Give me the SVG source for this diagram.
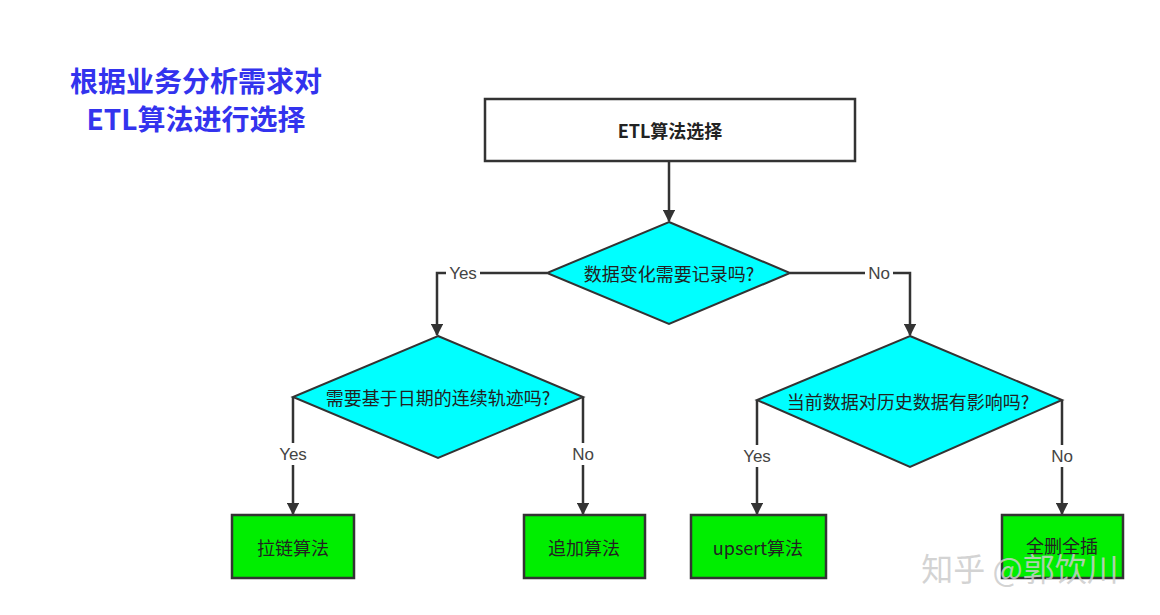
<svg xmlns="http://www.w3.org/2000/svg" width="1160" height="615" viewBox="0 0 1160 615">
<style>
text{font-family:"Noto Sans CJK SC","Liberation Sans",sans-serif;text-anchor:middle;dominant-baseline:central}
.dia{fill:#00ffff;stroke:#333;stroke-width:2}
.box{fill:#00ee00;stroke:#333;stroke-width:2.5}
.e{fill:none;stroke:#333;stroke-width:2.5;marker-end:url(#a)}
.t{font-size:18px;fill:#222}
.l{font-size:17px;fill:#444;font-family:"Liberation Sans","Noto Sans CJK SC",sans-serif}
.lb{fill:#fff}
</style>
<defs><marker id="a" viewBox="0 0 10 10" refX="9" refY="5" markerWidth="5" markerHeight="5" orient="auto" markerUnits="strokeWidth"><path d="M0,0L10,5L0,10z" fill="#333"/></marker></defs>
<rect width="1160" height="615" fill="#fff"/>
<g id="title"><text x="196" y="80" style="font-size:28px;font-weight:bold;fill:#3333ee">根据业务分析需求对</text><text x="196" y="118" style="font-size:28px;font-weight:bold;fill:#3333ee">ETL算法进行选择</text></g>
<g id="connectors">
<path class="e" d="M669,162V221"/>
<path class="e" d="M547,273H437V335"/>
<path class="e" d="M790,273H910V335"/>
<path class="e" d="M293,397V514"/>
<path class="e" d="M583,397V514"/>
<path class="e" d="M757,400V514"/>
<path class="e" d="M1062,400V514"/>
<rect class="lb" x="446" y="262" width="34" height="22"/><text class="l" x="463" y="273">Yes</text>
<rect class="lb" x="865" y="262" width="28" height="22"/><text class="l" x="879" y="273">No</text>
<rect class="lb" x="276" y="443" width="34" height="22"/><text class="l" x="293" y="454">Yes</text>
<rect class="lb" x="569" y="443" width="28" height="22"/><text class="l" x="583" y="454">No</text>
<rect class="lb" x="740" y="445" width="34" height="22"/><text class="l" x="757" y="456">Yes</text>
<rect class="lb" x="1048" y="445" width="28" height="22"/><text class="l" x="1062" y="456">No</text>
</g>
<g id="start"><rect x="485" y="99" width="370" height="62" fill="#fff" stroke="#333" stroke-width="2.5"/><text class="t" x="670" y="130" style="font-weight:bold">ETL算法选择</text></g>
<g id="d1"><polygon class="dia" points="669,222 790,273 669,324 547,273"/><text class="t" x="669" y="273">数据变化需要记录吗?</text></g>
<g id="d2"><polygon class="dia" points="438,336 583,397 438,458 293,397"/><text class="t" x="438" y="397">需要基于日期的连续轨迹吗?</text></g>
<g id="d3"><polygon class="dia" points="910,336 1062,400 910,467 757,400"/><text class="t" x="908" y="401">当前数据对历史数据有影响吗?</text></g>
<g id="b1"><rect class="box" x="232" y="515" width="122" height="63"/><text class="t" x="293" y="547">拉链算法</text></g>
<g id="b2"><rect class="box" x="524" y="515" width="121" height="63"/><text class="t" x="584" y="547">追加算法</text></g>
<g id="b3"><rect class="box" x="691" y="515" width="135" height="63"/><text class="t" x="758" y="547">upsert算法</text></g>
<g id="b4"><rect class="box" x="1002" y="515" width="121" height="63"/><text class="t" x="1062" y="545">全删全插</text></g>
<g id="wm"><text x="1020" y="567" style="font-size:32px;fill:#cccccc;fill-opacity:0.85">知乎 @郭饮川</text></g>
</svg>
